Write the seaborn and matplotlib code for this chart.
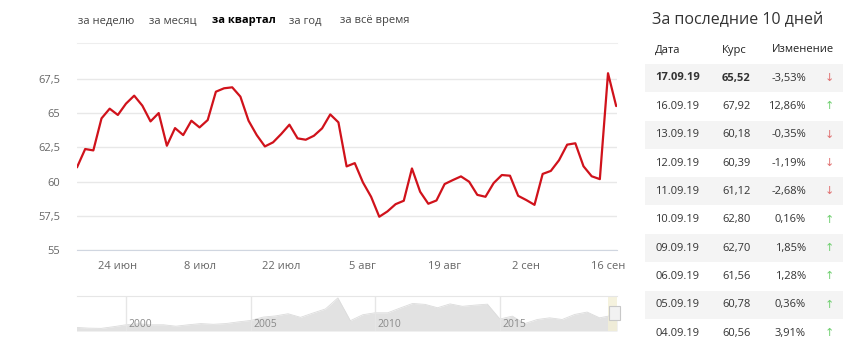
import pandas as pd
import matplotlib
matplotlib.use("Agg")
import matplotlib.pyplot as plt
from matplotlib.patches import Rectangle
import seaborn as sns

# quarter: 17 Jun - 17 Sep 2019, trading days
prices = [61.04, 62.38, 62.28, 64.62, 65.33, 64.87, 65.70, 66.28, 65.55, 64.40,
          65.01, 62.62, 63.91, 63.40, 64.45, 63.96, 64.50, 66.57, 66.82, 66.89,
          66.21, 64.45, 63.40, 62.57, 62.87, 63.48, 64.16, 63.16, 63.06, 63.35,
          63.89, 64.91, 64.33, 61.11, 61.35, 59.94, 58.89, 57.43, 57.82, 58.35,
          58.60, 60.96, 59.26, 58.38, 58.62, 59.82, 60.11, 60.38, 59.99, 59.03,
          58.89, 59.89, 60.48, 60.43, 58.96, 58.65, 58.30, 60.56, 60.78, 61.56,
          62.70, 62.80, 61.12, 60.39, 60.18, 67.92, 65.52]
dates = pd.bdate_range("2019-06-17", "2019-09-17")
tick_labels = ["24 июн", "8 июл", "22 июл", "5 авг", "19 авг", "2 сен", "16 сен"]
y_ticks = [55, 57.5, 60, 62.5, 65, 67.5]
y_labels = ["55", "57,5", "60", "62,5", "65", "67,5"]

# navigator (whole history), half-year steps
nav_years = [1998.0, 1998.5, 1999.0, 1999.5, 2000.0, 2000.5, 2001.0, 2001.5, 2002.0, 2002.5,
             2003.0, 2003.5, 2004.0, 2004.5, 2005.0, 2005.5, 2006.0, 2006.5, 2007.0, 2007.5,
             2008.0, 2008.5, 2009.0, 2009.5, 2010.0, 2010.5, 2011.0, 2011.5, 2012.0, 2012.5,
             2013.0, 2013.5, 2014.0, 2014.5, 2015.0, 2015.5, 2016.0, 2016.5, 2017.0, 2017.5,
             2018.0, 2018.5, 2019.0, 2019.5, 2019.7]
nav_price = [15, 12, 11, 18, 26, 30, 26, 26, 20, 26,
             31, 28, 31, 38, 44, 58, 63, 72, 57, 75,
             92, 138, 43, 68, 76, 76, 96, 115, 111, 97,
             113, 103, 108, 112, 50, 62, 31, 48, 55, 48,
             69, 79, 55, 65, 62]
nav_ticks = [2000, 2005, 2010, 2015]

tabs = ["за неделю", "за месяц", "за квартал", "за год", "за всё время"]
tab_x = [78, 149, 212, 289, 340]

tbl_dates = ["17.09.19", "16.09.19", "13.09.19", "12.09.19", "11.09.19",
             "10.09.19", "09.09.19", "06.09.19", "05.09.19", "04.09.19"]
tbl_rates = ["65,52", "67,92", "60,18", "60,39", "61,12",
             "62,80", "62,70", "61,56", "60,78", "60,56"]
tbl_change = ["-3,53%", "12,86%", "-0,35%", "-1,19%", "-2,68%",
              "0,16%", "1,85%", "1,28%", "0,36%", "3,91%"]

sns.set_style("white")
plt.rcParams["font.family"] = ["Open Sans", "DejaVu Sans"]

W, H = 850, 362
fig = plt.figure(figsize=(W / 100, H / 100), dpi=100)


def fx(px):
    return px / W


def fy(py):
    return 1 - py / H


df = pd.DataFrame({"i": range(len(prices)), "price": prices, "date": dates})

# main chart
ax = fig.add_axes([fx(77), fy(250), fx(617) - fx(77), fy(43) - fy(250)])
sns.lineplot(data=df, x="i", y="price", ax=ax, color="#d0121b", linewidth=1.6)
ax.set_xlim(0, 66.1)
ax.set_ylim(55, 70.13)
ax.set_yticks(y_ticks)
ax.set_yticklabels(y_labels)
tick_pos = [df.index[df["date"] == d][0] for d in pd.date_range("2019-06-24", periods=7, freq="14D")]
ax.set_xticks(tick_pos)
ax.set_xticklabels(tick_labels)
ax.set_xlabel("")
ax.set_ylabel("")
ax.grid(axis="y", color="#e8e8e8", linewidth=1)
ax.tick_params(axis="y", length=0, pad=12, labelsize=8, labelcolor="#666666")
ax.tick_params(axis="x", length=5, width=1, color="#d0d6e0", pad=3, labelsize=8, labelcolor="#666666")
for s in ["left", "right"]:
    ax.spines[s].set_visible(False)
ax.spines["top"].set_color("#eeeeee")
ax.spines["bottom"].set_color("#d0d6e0")

# navigator
nav = fig.add_axes([fx(77), fy(331), fx(617) - fx(77), fy(296) - fy(331)])
nav.fill_between(nav_years, nav_price, color="#e2e2e2", linewidth=0)
sns.lineplot(x=nav_years, y=nav_price, ax=nav, color="#dcdcdc", linewidth=0.6)
nav.set_xlim(1998.03, 2019.7)
nav.set_ylim(0, 146)
nav.set_xticks([])
nav.set_yticks([])
for t in nav_ticks:
    nav.axvline(t, color="#e6e6e6", linewidth=1)
    nav.text(t + 0.1, 29, str(t), fontsize=7.5, color="#8a8a8a", va="center")
for s in ["left", "right", "bottom"]:
    nav.spines[s].set_visible(False)
nav.spines["top"].set_color("#e6e6e6")
nav.axvspan(2019.35, 2019.7, color="#f3efd6", alpha=0.8, linewidth=0)
fig.patches.append(Rectangle((fx(609), fy(320)), fx(11), fy(306) - fy(320),
                             transform=fig.transFigure, facecolor="#f2f2f2",
                             edgecolor="#c8c8c8", linewidth=0.8))

# tabs
for t, x in zip(tabs, tab_x):
    bold = t == "за квартал"
    fig.text(fx(x), fy(21), t, fontsize=8, color="#000000" if bold else "#444444",
             weight="bold" if bold else "normal", va="center", ha="left")

# table on the right
fig.text(fx(652), fy(20), "За последние 10 дней", fontsize=11.5, color="#333333", va="center")
for label, x in zip(["Дата", "Курс", "Изменение"], [655, 722, 772]):
    fig.text(fx(x), fy(50), label, fontsize=8, color="#222222", va="center")
for k in range(len(tbl_dates)):
    yc = 78 + k * 28.35
    if k % 2 == 0:
        fig.patches.append(Rectangle((fx(645), fy(yc + 14)), fx(843) - fx(645), fy(yc - 14) - fy(yc + 14),
                                     transform=fig.transFigure, facecolor="#f4f4f4", edgecolor="none"))
    w = "bold" if k == 0 else "normal"
    fig.text(fx(655), fy(yc), tbl_dates[k], fontsize=8, color="#333333", weight=w, va="center")
    fig.text(fx(722), fy(yc), tbl_rates[k], fontsize=8, color="#333333", weight=w, va="center")
    fig.text(fx(806), fy(yc), tbl_change[k], fontsize=8, color="#333333", va="center", ha="right")
    up = not tbl_change[k].startswith("-")
    fig.text(fx(829), fy(yc), "↑" if up else "↓", fontsize=8, va="center", ha="center",
             color="#6fcf6f" if up else "#e07070", family=["DejaVu Sans"])

fig.savefig("out.png", dpi=100)
